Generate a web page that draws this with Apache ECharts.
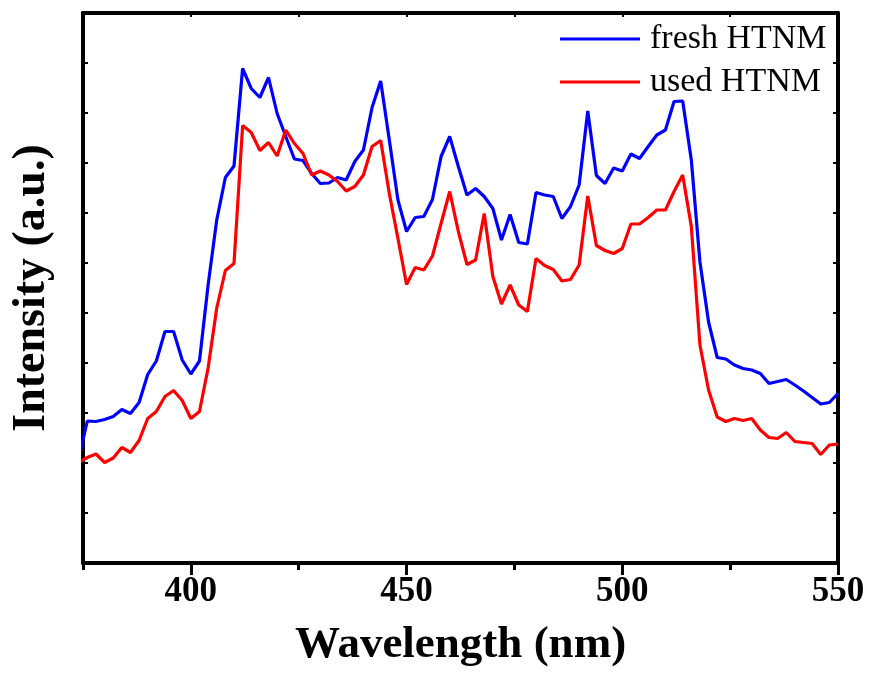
<!DOCTYPE html>
<html>
<head>
<meta charset="utf-8">
<script src="https://cdn.jsdelivr.net/npm/echarts@6/dist/echarts.min.js"></script>
<style>
html,body{margin:0;padding:0;background:#fff;}
#chart{width:869px;height:676px;}
</style>
</head>
<body>
<div id="chart"></div>
<script>
// Wavelength (nm), 2 nm steps
const wavelengths = [374,376,378,380,382,384,386,388,390,392,394,396,398,400,402,404,406,408,410,412,414,416,418,420,422,424,426,428,430,432,434,436,438,440,442,444,446,448,450,452,454,456,458,460,462,464,466,468,470,472,474,476,478,480,482,484,486,488,490,492,494,496,498,500,502,504,506,508,510,512,514,516,518,520,522,524,526,528,530,532,534,536,538,540,542,544,546,548,550];

const freshHTNM = [2.08,2.84,2.83,2.87,2.93,3.07,2.99,3.21,3.77,4.04,4.63,4.63,4.06,3.78,4.04,5.56,6.86,7.71,7.94,9.89,9.49,9.31,9.71,8.99,8.53,8.08,8.05,7.79,7.59,7.60,7.71,7.66,8.03,8.26,9.11,9.64,8.46,7.26,6.63,6.91,6.93,7.27,8.13,8.53,7.93,7.36,7.49,7.33,7.09,6.46,6.97,6.41,6.38,7.41,7.36,7.33,6.89,7.13,7.56,9.04,7.75,7.59,7.90,7.84,8.18,8.09,8.33,8.56,8.66,9.23,9.24,8.06,6.02,4.82,4.11,4.08,3.96,3.89,3.86,3.79,3.59,3.63,3.67,3.56,3.44,3.31,3.18,3.21,3.39];

const usedHTNM = [2.01,2.11,2.18,2.01,2.10,2.31,2.21,2.45,2.89,3.03,3.33,3.45,3.25,2.89,3.03,3.90,5.10,5.85,5.99,8.75,8.61,8.25,8.41,8.14,8.66,8.39,8.19,7.76,7.84,7.76,7.63,7.44,7.53,7.76,8.33,8.45,7.39,6.49,5.57,5.91,5.86,6.14,6.79,7.43,6.63,5.97,6.06,6.99,5.73,5.18,5.56,5.16,5.03,6.09,5.95,5.87,5.64,5.67,5.96,7.34,6.35,6.25,6.19,6.29,6.78,6.78,6.91,7.06,7.06,7.43,7.76,6.73,4.36,3.46,2.92,2.83,2.89,2.85,2.89,2.66,2.51,2.49,2.61,2.43,2.41,2.39,2.17,2.36,2.38];

const seriesNames = ['fresh HTNM','used HTNM'];
const majorTicks = [400,450,500,550];
const minorTicks = [375,425,475,525];

const serif = '"Liberation Serif","Times New Roman",serif';
const chart = echarts.init(document.getElementById('chart'), null, {renderer:'canvas'});

function pairs(ys){ return wavelengths.map((x,i)=>[x, ys[i]]); }

const axisLineStyle = {color:'#000', width:4};

chart.setOption({
  animation:false,
  backgroundColor:'#fff',
  grid:{left:83, right:31, top:13, bottom:113, containLabel:false},
  legend:{
    orient:'vertical', left:555, top:16,
    itemWidth:80, itemHeight:3, itemGap:7, icon:'rect',
    textStyle:{fontFamily:serif, fontSize:34, color:'#000', lineHeight:36, padding:[0,0,0,5]},
    data:seriesNames
  },
  xAxis:[
    {type:'value', min:375, max:550, interval:25, position:'bottom',
     name:'Wavelength (nm)', nameLocation:'middle', nameGap:60,
     nameTextStyle:{fontFamily:serif, fontWeight:'bold', fontSize:45, color:'#000'},
     axisLine:{show:true, lineStyle:axisLineStyle},
     axisTick:{show:true, customValues:majorTicks, length:12, lineStyle:{color:'#000', width:3}},
     axisLabel:{show:true, customValues:majorTicks, margin:11, fontFamily:serif, fontWeight:'bold', fontSize:35, color:'#000'},
     splitLine:{show:false}},
    {type:'value', min:375, max:550, interval:25, position:'bottom',
     axisLine:{show:false},
     axisTick:{show:true, customValues:minorTicks, length:7, lineStyle:{color:'#000', width:3}},
     axisLabel:{show:false}, splitLine:{show:false}},
    {type:'value', min:375, max:550, interval:25, position:'top',
     axisLine:{show:true, lineStyle:axisLineStyle},
     axisTick:{show:true, inside:true, length:4, lineStyle:{color:'#000', width:2}},
     axisLabel:{show:false}, splitLine:{show:false}}
  ],
  yAxis:[
    {type:'value', min:0, max:11, interval:1, position:'left',
     name:'Intensity (a.u.)', nameLocation:'middle', nameGap:28, nameRotate:90,
     nameTextStyle:{fontFamily:serif, fontWeight:'bold', fontSize:46, color:'#000'},
     axisLine:{show:true, lineStyle:axisLineStyle},
     axisTick:{show:true, inside:true, length:5, lineStyle:{color:'#000', width:2}},
     axisLabel:{show:false}, splitLine:{show:false}},
    {type:'value', min:0, max:11, interval:1, position:'right',
     axisLine:{show:true, lineStyle:axisLineStyle},
     axisTick:{show:true, inside:true, length:5, lineStyle:{color:'#000', width:2}},
     axisLabel:{show:false}, splitLine:{show:false}}
  ],
  series:[
    {name:seriesNames[0], type:'line', xAxisIndex:0, yAxisIndex:0, data:pairs(freshHTNM),
     symbol:'none', clip:true, color:'#0000ff', lineStyle:{color:'#0000ff', width:3.2}},
    {name:seriesNames[1], type:'line', xAxisIndex:0, yAxisIndex:0, data:pairs(usedHTNM),
     symbol:'none', clip:true, color:'#ff0000', lineStyle:{color:'#ff0000', width:3.2}}
  ]
});
</script>
</body>
</html>
